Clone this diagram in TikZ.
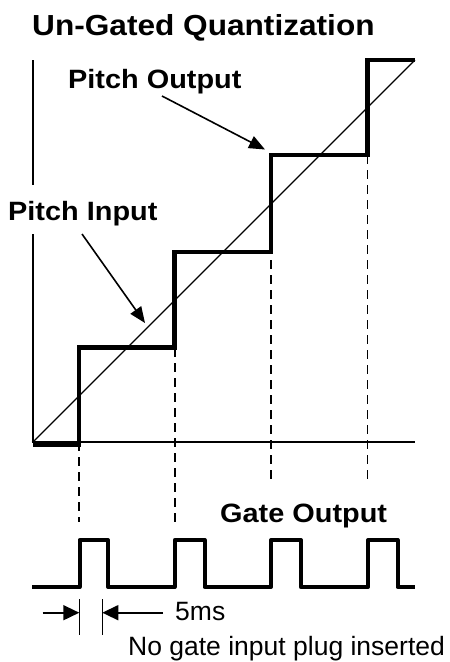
\documentclass[tikz,border=0pt]{standalone}
\usepackage{fontspec}
\setmainfont{Liberation Sans}
\usetikzlibrary{arrows.meta}
% slightly widened lettering
\newcommand\widetext[1]{\scalebox{1.09}[1]{#1}}
\begin{document}
\begin{tikzpicture}[x=1pt,y=-1pt,
  headline/.style={font=\fontsize{29}{32}\selectfont\bfseries, anchor=base west, inner sep=0pt},
  tag/.style={font=\fontsize{26.5}{30}\selectfont\bfseries, anchor=base west, inner sep=0pt},
  note/.style={font=\fontsize{26.5}{30}\selectfont, anchor=base west, inner sep=0pt},
  axis/.style={line width=2.8pt},
  stairs/.style={line width=4.5pt, line join=miter},
  ramp/.style={line width=1.3pt},
  guide/.style={line width=1.8pt, dash pattern=on 9pt off 6pt},
  pulse/.style={line width=4pt, line join=round},
  pointer/.style={line width=1.6pt, -{Triangle[length=16pt,width=13pt]}},
  dimarrow/.style={line width=1.6pt, -{Triangle[length=16pt,width=15pt]}},
  tick/.style={line width=1.6pt}
]
\useasboundingbox (0,0) rectangle (450,662);

% labels
\node[headline] (title) at (32,35.7) {\widetext{Un-Gated Quantization}};
\node[tag] (pout) at (68,88) {\widetext{Pitch Output}};
\node[tag] (pin) at (8,220) {\widetext{Pitch Input}};
\node[tag] (gout) at (220,522) {\widetext{Gate Output}};
\node[note] (dur) at (175,620) {5ms};
\node[note] (plug) at (128,655.5) {No gate input plug inserted};

% axes (vertical axis broken around the input label)
\draw[axis] (33,60) -- (33,185);
\draw[axis] (33,234) -- (33,442);
\draw[axis] (31.6,442) -- (415,442);

% ideal input ramp
\draw[ramp] (33,442) -- (415,60);

% timing guides
\draw[guide] (79,442) -- (79,522);
\draw[guide] (174.7,348) -- (174.7,522);
\draw[guide] (271,155) -- (271,480);
\draw[guide] (367.5,155) -- (367.5,480);

% quantized output staircase
\draw[stairs] (33,444.3) -- (79,444.3) -- (79,347.5) -- (174.7,347.5)
  -- (174.7,252) -- (271,252) -- (271,155) -- (367.5,155)
  -- (367.5,60) -- (415,60);

% gate pulses
\draw[pulse] (32,587) -- (79.5,587) -- (79.5,540) -- (108,540) -- (108,587)
  -- (174.7,587) -- (174.7,540) -- (204.5,540) -- (204.5,587)
  -- (271,587) -- (271,540) -- (300.8,540) -- (300.8,587)
  -- (368,587) -- (368,540) -- (397.5,540) -- (397.5,587) -- (415,587);

% callout arrows
\coordinate (pout-from) at (162,96);
\coordinate (pout-to) at (265,149.5);
\coordinate (pin-from) at (82,234);
\coordinate (pin-to) at (145,323);
\draw[pointer] (pout-from) -- (pout-to);
\draw[pointer] (pin-from) -- (pin-to);

% 5 ms dimension
\coordinate (w-left) at (79.3,599);
\coordinate (w-left-end) at (79.3,635);
\coordinate (w-right) at (102.3,599);
\coordinate (w-right-end) at (102.3,635);
\draw[tick] (w-left) -- (w-left-end);
\draw[tick] (w-right) -- (w-right-end);
\coordinate (a-left-tail) at (42.7,612.7);
\coordinate (a-left-tip) at (79.3,612.7);
\coordinate (a-right-tail) at (163,612.7);
\coordinate (a-right-tip) at (102.3,612.7);
\draw[dimarrow] (a-left-tail) -- (a-left-tip);
\draw[dimarrow] (a-right-tail) -- (a-right-tip);
\end{tikzpicture}
\end{document}
